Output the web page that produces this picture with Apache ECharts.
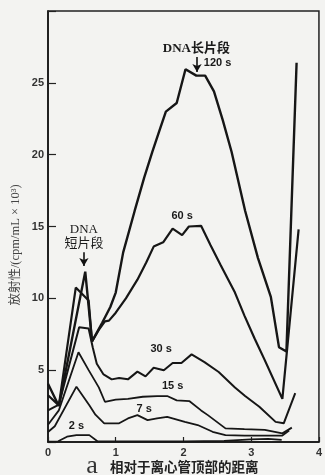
<!DOCTYPE html>
<html><head><meta charset="utf-8">
<script src="https://cdn.jsdelivr.net/npm/echarts@6/dist/echarts.min.js"></script>
<style>html,body{margin:0;padding:0;background:#f3f3f1;}#c{width:325px;height:475px;}</style>
</head><body><div id="c"></div>
<script>
// x: distance from top of tube, y: radioactivity (cpm/mL x 10^3)
const s120 = [[0,4.06],[0.16,2.5],[0.55,11.86],[0.65,7.0],[0.8,8.3],[0.92,9.4],[1.0,10.4],[1.11,13.2],[1.28,16.1],[1.42,18.4],[1.54,20.2],[1.64,21.6],[1.74,23.0],[1.9,23.6],[2.03,25.95],[2.19,25.5],[2.32,25.5],[2.45,24.4],[2.58,22.4],[2.71,20.2],[2.91,16.1],[3.1,12.8],[3.29,10.1],[3.41,6.6],[3.52,6.3],[3.67,26.4]];
const s60 = [[0,3.25],[0.16,2.55],[0.41,10.75],[0.6,9.85],[0.65,7.0],[0.75,7.8],[0.84,8.4],[0.9,8.45],[1.0,9.0],[1.15,10.0],[1.32,11.3],[1.45,12.5],[1.56,13.6],[1.7,13.9],[1.84,14.85],[1.98,14.4],[2.08,15.0],[2.26,15.05],[2.4,13.7],[2.55,12.3],[2.65,11.4],[2.76,10.4],[2.9,8.8],[3.05,7.2],[3.2,5.7],[3.46,3.0],[3.7,14.8]];
const s30 = [[0,2.2],[0.16,2.6],[0.46,7.98],[0.6,7.9],[0.66,6.6],[0.72,5.45],[0.82,4.7],[0.94,4.36],[1.05,4.45],[1.18,4.36],[1.32,4.9],[1.44,4.57],[1.56,5.17],[1.71,5.0],[1.84,5.5],[1.97,5.5],[2.12,6.1],[2.31,5.56],[2.52,4.87],[2.76,3.8],[2.91,3.2],[3.12,2.45],[3.36,1.4],[3.48,1.3],[3.65,3.4]];
const s15 = [[0,1.2],[0.16,2.2],[0.45,6.25],[0.6,5.0],[0.75,3.8],[0.84,2.8],[1.0,2.95],[1.18,3.0],[1.4,3.15],[1.61,3.2],[1.76,3.2],[1.9,2.9],[2.09,2.84],[2.26,2.2],[2.36,1.87],[2.62,0.95],[2.9,0.9],[3.2,0.85],[3.46,0.6],[3.6,1.0]];
const s7 = [[0,0.7],[0.1,1.1],[0.42,3.85],[0.61,2.56],[0.7,1.9],[0.83,1.3],[1.05,1.3],[1.18,1.64],[1.32,1.87],[1.47,1.52],[1.61,1.64],[1.76,1.75],[2.02,1.4],[2.21,1.18],[2.43,0.71],[2.62,0.48],[2.9,0.45],[3.2,0.45],[3.46,0.45],[3.56,0.8]];
const s2 = [[0,0.02],[0.15,0.05],[0.28,0.37],[0.42,0.48],[0.61,0.48],[0.73,0.05],[1.0,0.05],[2.0,0.05],[2.6,0.08],[3.0,0.18],[3.25,0.22],[3.45,0.15]];
const xTicks = [0,1,2,3,4];
const yTicks = [5,10,15,20,25];

const chart = echarts.init(document.getElementById('c'), null, {renderer:'canvas'});
const mk = (name, data, w) => ({type:'line', name, data, symbol:'none', smooth:false,
  lineStyle:{color:'#161616', width:w}, z:3});
const series = [mk('120 s', s120, 2.4), mk('60 s', s60, 2.2), mk('30 s', s30, 2.0),
  mk('15 s', s15, 1.8), mk('7 s', s7, 1.8), mk('2 s', s2, 1.8)];
// arrows
series.push({type:'line', data:[], markLine:{silent:true, symbol:['none','arrow'], symbolSize:[7,8],
  lineStyle:{color:'#111', width:1.6, type:'solid'}, label:{show:false},
  data:[[{coord:[2.2,26.8]},{coord:[2.2,25.75]}],[{coord:[0.53,13.2]},{coord:[0.53,12.25]}]]}});
chart.setOption({
  backgroundColor:'#f3f3f1',
  animation:false,
  grid:{left:48, top:11, width:278, height:431, show:true, borderColor:'#222', borderWidth:1.5},
  xAxis:{type:'value', min:0, max:4, interval:1,
    axisLine:{lineStyle:{color:'#111', width:1.5}},
    axisTick:{inside:true, length:5, lineStyle:{color:'#222', width:1.2}},
    axisLabel:{color:'#333', fontSize:11, fontWeight:'bold', fontFamily:'Liberation Sans', margin:5, showMaxLabel:true},
    splitLine:{show:false}},
  yAxis:{type:'value', min:0, max:30, interval:5,
    axisLine:{show:true, lineStyle:{color:'#111', width:1.5}},
    axisTick:{inside:true, length:8, lineStyle:{color:'#222', width:1.2}},
    axisLabel:{color:'#333', fontSize:11, fontWeight:'bold', fontFamily:'Liberation Sans', margin:4,
      formatter:v => yTicks.includes(v) ? String(v) : ''},
    splitLine:{show:false}},
  series
});
const P = (x,y) => chart.convertToPixel({gridIndex:0}, [x,y]);
const txt = (s, x, y, opts={}) => {
  const p = P(x,y);
  return {type:'text', x:p[0], y:p[1], z:10, style:Object.assign({text:s, fill:'#1a1a1a',
    font:'bold 11px "Liberation Sans", "Noto Sans CJK SC"', align:'center', verticalAlign:'middle'}, opts)};
};
chart.setOption({graphic:[
  txt('DNA长片段', 2.19, 27.35, {font:'bold 13px "Liberation Serif", "Noto Sans CJK SC"'}),
  txt('120 s', 2.3, 26.37, {align:'left'}),
  txt('60 s', 1.98, 15.75),
  txt('DNA', 0.53, 14.82, {font:'13px "Liberation Serif", "Noto Sans CJK SC"'}),
  txt('短片段', 0.53, 13.92, {font:'13px "Noto Sans CJK SC"'}),
  txt('30 s', 1.67, 6.45),
  txt('15 s', 1.84, 3.9),
  txt('7 s', 1.42, 2.3),
  txt('2 s', 0.42, 1.13),
  {type:'text', x:16, y:245, rotation:Math.PI/2, z:10, style:{text:'放射性/(cpm/mL × 10³)', fill:'#444',
    font:'12.5px "Liberation Serif", "Noto Sans CJK SC"', align:'center', verticalAlign:'middle'}},
  {type:'text', x:92, y:466, z:10, style:{text:'a', fill:'#333', font:'26px "Liberation Serif"', align:'center', verticalAlign:'middle'}},
  {type:'text', x:110, y:467, z:10, style:{text:'相对于离心管顶部的距离', fill:'#222', font:'bold 13.5px "Noto Sans CJK SC"', align:'left', verticalAlign:'middle'}}
]});
</script></body></html>
